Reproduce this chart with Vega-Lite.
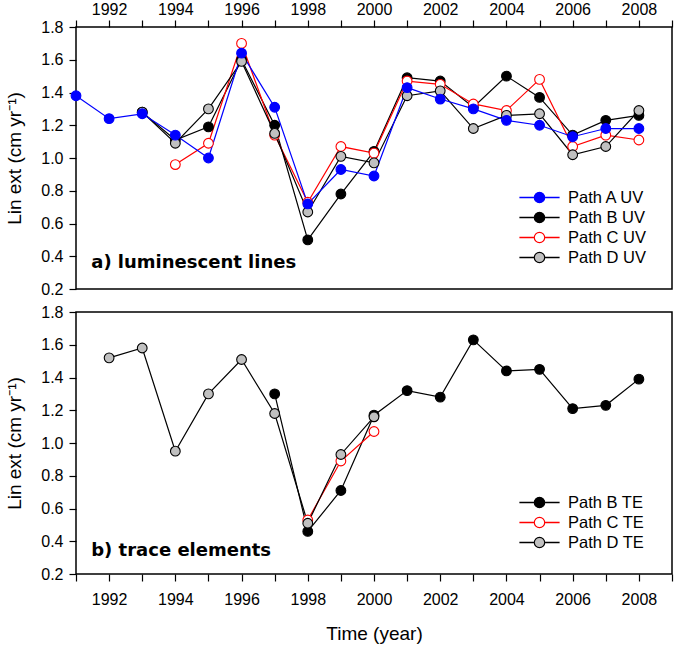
{
  "$schema": "https://vega.github.io/schema/vega-lite/v6.json",
  "padding": {"left": 5, "top": 0, "right": 0, "bottom": 0},
  "autosize": {"type": "pad"},
  "background": "white",
  "config": {
    "view": {"stroke": "black", "strokeWidth": 1.5},
    "axis": {
      "domain": false, "grid": false, "tickColor": "black", "tickSize": 7, "tickWidth": 1.2,
      "labelFont": "Liberation Sans", "labelFontSize": 16, "labelColor": "black",
      "titleFont": "Liberation Sans", "titleFontSize": 19, "titleFontWeight": "normal", "titleColor": "black",
      "labelFlush": false, "labelOverlap": false
    },
    "axisX": {"values": [1992,1993,1994,1995,1996,1997,1998,1999,2000,2001,2002,2003,2004,2005,2006,2007,2008], "labelExpr": "datum.value % 2 == 0 ? format(datum.value, 'd') : ''"},
    "axisY": {"values": [0.2,0.4,0.6,0.8,1.0,1.2,1.4,1.6,1.8], "format": ".1f", "labelPadding": 6, "titlePadding": 16},
    "legend": {
      "orient": "none", "title": null, "labelFont": "Liberation Sans", "labelFontSize": 16.5, "labelColor": "black",
      "symbolSize": 433, "symbolStrokeWidth": 1.2, "labelOffset": 17, "rowPadding": 0, "padding": 0, "symbolOpacity": 1
    }
  },
  "datasets": {
    "uv": [
      {"series": "Path B UV", "year": 1993, "v": 1.28}, {"series": "Path B UV", "year": 1994, "v": 1.11},
      {"series": "Path B UV", "year": 1995, "v": 1.19}, {"series": "Path B UV", "year": 1996, "v": 1.60},
      {"series": "Path B UV", "year": 1997, "v": 1.20}, {"series": "Path B UV", "year": 1998, "v": 0.50},
      {"series": "Path B UV", "year": 1999, "v": 0.78}, {"series": "Path B UV", "year": 2000, "v": 1.04},
      {"series": "Path B UV", "year": 2001, "v": 1.49}, {"series": "Path B UV", "year": 2002, "v": 1.47},
      {"series": "Path B UV", "year": 2003, "v": 1.31}, {"series": "Path B UV", "year": 2004, "v": 1.50},
      {"series": "Path B UV", "year": 2005, "v": 1.37}, {"series": "Path B UV", "year": 2006, "v": 1.14},
      {"series": "Path B UV", "year": 2007, "v": 1.23}, {"series": "Path B UV", "year": 2008, "v": 1.26},
      {"series": "Path C UV", "year": 1994, "v": 0.96}, {"series": "Path C UV", "year": 1995, "v": 1.09},
      {"series": "Path C UV", "year": 1996, "v": 1.70}, {"series": "Path C UV", "year": 1997, "v": 1.14},
      {"series": "Path C UV", "year": 1998, "v": 0.73}, {"series": "Path C UV", "year": 1999, "v": 1.07},
      {"series": "Path C UV", "year": 2000, "v": 1.03}, {"series": "Path C UV", "year": 2001, "v": 1.47},
      {"series": "Path C UV", "year": 2002, "v": 1.45}, {"series": "Path C UV", "year": 2003, "v": 1.33},
      {"series": "Path C UV", "year": 2004, "v": 1.29}, {"series": "Path C UV", "year": 2005, "v": 1.48},
      {"series": "Path C UV", "year": 2006, "v": 1.07}, {"series": "Path C UV", "year": 2007, "v": 1.14},
      {"series": "Path C UV", "year": 2008, "v": 1.11},
      {"series": "Path D UV", "year": 1993, "v": 1.28}, {"series": "Path D UV", "year": 1994, "v": 1.09},
      {"series": "Path D UV", "year": 1995, "v": 1.30}, {"series": "Path D UV", "year": 1996, "v": 1.59},
      {"series": "Path D UV", "year": 1997, "v": 1.15}, {"series": "Path D UV", "year": 1998, "v": 0.67},
      {"series": "Path D UV", "year": 1999, "v": 1.01}, {"series": "Path D UV", "year": 2000, "v": 0.97},
      {"series": "Path D UV", "year": 2001, "v": 1.38}, {"series": "Path D UV", "year": 2002, "v": 1.41},
      {"series": "Path D UV", "year": 2003, "v": 1.18}, {"series": "Path D UV", "year": 2004, "v": 1.26},
      {"series": "Path D UV", "year": 2005, "v": 1.27}, {"series": "Path D UV", "year": 2006, "v": 1.02},
      {"series": "Path D UV", "year": 2007, "v": 1.07}, {"series": "Path D UV", "year": 2008, "v": 1.29},
      {"series": "Path A UV", "year": 1991, "v": 1.38}, {"series": "Path A UV", "year": 1992, "v": 1.24},
      {"series": "Path A UV", "year": 1993, "v": 1.27}, {"series": "Path A UV", "year": 1994, "v": 1.14},
      {"series": "Path A UV", "year": 1995, "v": 1.00}, {"series": "Path A UV", "year": 1996, "v": 1.64},
      {"series": "Path A UV", "year": 1997, "v": 1.31}, {"series": "Path A UV", "year": 1998, "v": 0.72},
      {"series": "Path A UV", "year": 1999, "v": 0.93}, {"series": "Path A UV", "year": 2000, "v": 0.89},
      {"series": "Path A UV", "year": 2001, "v": 1.43}, {"series": "Path A UV", "year": 2002, "v": 1.36},
      {"series": "Path A UV", "year": 2003, "v": 1.30}, {"series": "Path A UV", "year": 2004, "v": 1.23},
      {"series": "Path A UV", "year": 2005, "v": 1.20}, {"series": "Path A UV", "year": 2006, "v": 1.13},
      {"series": "Path A UV", "year": 2007, "v": 1.18}, {"series": "Path A UV", "year": 2008, "v": 1.18}
    ],
    "te": [
      {"series": "Path B TE", "year": 1997, "v": 1.30}, {"series": "Path B TE", "year": 1998, "v": 0.46},
      {"series": "Path B TE", "year": 1999, "v": 0.71}, {"series": "Path B TE", "year": 2000, "v": 1.17},
      {"series": "Path B TE", "year": 2001, "v": 1.32}, {"series": "Path B TE", "year": 2002, "v": 1.28},
      {"series": "Path B TE", "year": 2003, "v": 1.63}, {"series": "Path B TE", "year": 2004, "v": 1.44},
      {"series": "Path B TE", "year": 2005, "v": 1.45}, {"series": "Path B TE", "year": 2006, "v": 1.21},
      {"series": "Path B TE", "year": 2007, "v": 1.23}, {"series": "Path B TE", "year": 2008, "v": 1.39},
      {"series": "Path C TE", "year": 1998, "v": 0.53}, {"series": "Path C TE", "year": 1999, "v": 0.89},
      {"series": "Path C TE", "year": 2000, "v": 1.07},
      {"series": "Path D TE", "year": 1992, "v": 1.52}, {"series": "Path D TE", "year": 1993, "v": 1.58},
      {"series": "Path D TE", "year": 1994, "v": 0.95}, {"series": "Path D TE", "year": 1995, "v": 1.30},
      {"series": "Path D TE", "year": 1996, "v": 1.51}, {"series": "Path D TE", "year": 1997, "v": 1.18},
      {"series": "Path D TE", "year": 1998, "v": 0.51}, {"series": "Path D TE", "year": 1999, "v": 0.93},
      {"series": "Path D TE", "year": 2000, "v": 1.16}
    ]
  },
  "spacing": 5,
  "resolve": {"scale": {"stroke": "independent", "fill": "independent", "x": "independent", "y": "independent"}, "legend": {"stroke": "independent", "fill": "independent"}},
  "vconcat": [
    {
      "width": 596, "height": 262,
      "layer": [
        {
          "data": {"name": "uv"},
          "mark": {"type": "line", "strokeWidth": 1.2},
          "encoding": {
            "x": {"field": "year", "type": "quantitative", "scale": {"domain": [1991, 2009], "nice": false, "zero": false},
                  "axis": {"orient": "top", "title": null, "labelPadding": 3}},
            "y": {"field": "v", "type": "quantitative", "scale": {"domain": [0.2, 1.8], "nice": false, "zero": false},
                  "axis": {"title": "Lin ext (cm yr⁻¹)"}},
            "stroke": {"field": "series", "type": "nominal",
                       "scale": {"domain": ["Path A UV", "Path B UV", "Path C UV", "Path D UV"], "range": ["#0000ff", "#000000", "#ff0000", "#000000"]},
                       "legend": {"legendX": 452, "legendY": 159, "symbolType": "M-1.875,-0.015L-0.5,-0.015L-0.5,0.015L-1.875,0.015ZM0.5,-0.015L1.875,-0.015L1.875,0.015L0.5,0.015ZM-0.5,0A0.5,0.5,0,1,0,0.5,0A0.5,0.5,0,1,0,-0.5,0Z"}},
            "detail": {"field": "series"}
          }
        },
        {
          "data": {"name": "uv"},
          "mark": {"type": "point", "filled": true, "size": 95, "strokeWidth": 1.1, "opacity": 1},
          "encoding": {
            "x": {"field": "year", "type": "quantitative"},
            "y": {"field": "v", "type": "quantitative"},
            "stroke": {"field": "series", "type": "nominal",
                       "scale": {"domain": ["Path A UV", "Path B UV", "Path C UV", "Path D UV"], "range": ["#0000ff", "#000000", "#ff0000", "#000000"]},
                       "legend": {"legendX": 452, "legendY": 159, "symbolType": "M-1.875,-0.015L-0.5,-0.015L-0.5,0.015L-1.875,0.015ZM0.5,-0.015L1.875,-0.015L1.875,0.015L0.5,0.015ZM-0.5,0A0.5,0.5,0,1,0,0.5,0A0.5,0.5,0,1,0,-0.5,0Z"}},
            "fill": {"field": "series", "type": "nominal",
                     "scale": {"domain": ["Path A UV", "Path B UV", "Path C UV", "Path D UV"], "range": ["#0000ff", "#000000", "#ffffff", "#c0c0c0"]},
                     "legend": {"legendX": 452, "legendY": 159, "symbolType": "M-1.875,-0.015L-0.5,-0.015L-0.5,0.015L-1.875,0.015ZM0.5,-0.015L1.875,-0.015L1.875,0.015L0.5,0.015ZM-0.5,0A0.5,0.5,0,1,0,0.5,0A0.5,0.5,0,1,0,-0.5,0Z"}}
          }
        },
        {
          "data": {"values": [{"label": "a) luminescent lines", "px": 1991.46, "py": 0.326}]},
          "mark": {"type": "text", "font": "DejaVu Sans", "fontWeight": "bold", "fontSize": 18, "align": "left", "baseline": "alphabetic", "fill": "black"},
          "encoding": {"text": {"field": "label"}, "x": {"field": "px", "type": "quantitative"}, "y": {"field": "py", "type": "quantitative"}}
        }
      ]
    },
    {
      "width": 596, "height": 262,
      "layer": [
        {
          "data": {"name": "te"},
          "mark": {"type": "line", "strokeWidth": 1.2},
          "encoding": {
            "x": {"field": "year", "type": "quantitative", "scale": {"domain": [1991, 2009], "nice": false, "zero": false},
                  "axis": {"orient": "bottom", "title": "Time (year)", "labelPadding": 10, "titlePadding": 17}},
            "y": {"field": "v", "type": "quantitative", "scale": {"domain": [0.2, 1.8], "nice": false, "zero": false},
                  "axis": {"title": "Lin ext (cm yr⁻¹)"}},
            "stroke": {"field": "series", "type": "nominal",
                       "scale": {"domain": ["Path B TE", "Path C TE", "Path D TE"], "range": ["#000000", "#ff0000", "#000000"]},
                       "legend": {"legendX": 452, "legendY": 179, "symbolType": "M-1.875,-0.015L-0.5,-0.015L-0.5,0.015L-1.875,0.015ZM0.5,-0.015L1.875,-0.015L1.875,0.015L0.5,0.015ZM-0.5,0A0.5,0.5,0,1,0,0.5,0A0.5,0.5,0,1,0,-0.5,0Z"}},
            "detail": {"field": "series"}
          }
        },
        {
          "data": {"name": "te"},
          "mark": {"type": "point", "filled": true, "size": 95, "strokeWidth": 1.1, "opacity": 1},
          "encoding": {
            "x": {"field": "year", "type": "quantitative"},
            "y": {"field": "v", "type": "quantitative"},
            "stroke": {"field": "series", "type": "nominal",
                       "scale": {"domain": ["Path B TE", "Path C TE", "Path D TE"], "range": ["#000000", "#ff0000", "#000000"]},
                       "legend": {"legendX": 452, "legendY": 179, "symbolType": "M-1.875,-0.015L-0.5,-0.015L-0.5,0.015L-1.875,0.015ZM0.5,-0.015L1.875,-0.015L1.875,0.015L0.5,0.015ZM-0.5,0A0.5,0.5,0,1,0,0.5,0A0.5,0.5,0,1,0,-0.5,0Z"}},
            "fill": {"field": "series", "type": "nominal",
                     "scale": {"domain": ["Path B TE", "Path C TE", "Path D TE"], "range": ["#000000", "#ffffff", "#c0c0c0"]},
                     "legend": {"legendX": 452, "legendY": 179, "symbolType": "M-1.875,-0.015L-0.5,-0.015L-0.5,0.015L-1.875,0.015ZM0.5,-0.015L1.875,-0.015L1.875,0.015L0.5,0.015ZM-0.5,0A0.5,0.5,0,1,0,0.5,0A0.5,0.5,0,1,0,-0.5,0Z"}}
          }
        },
        {
          "data": {"values": [{"label": "b) trace elements", "px": 1991.46, "py": 0.31}]},
          "mark": {"type": "text", "font": "DejaVu Sans", "fontWeight": "bold", "fontSize": 18, "align": "left", "baseline": "alphabetic", "fill": "black"},
          "encoding": {"text": {"field": "label"}, "x": {"field": "px", "type": "quantitative"}, "y": {"field": "py", "type": "quantitative"}}
        }
      ]
    }
  ]
}
